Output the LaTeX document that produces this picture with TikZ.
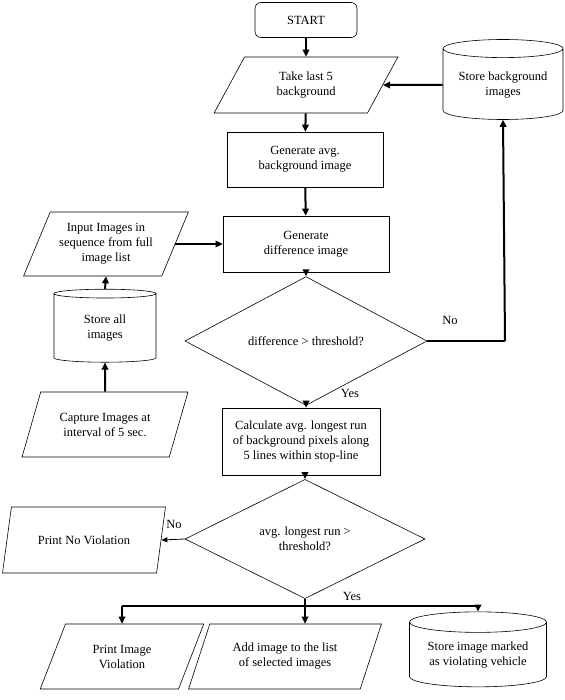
\documentclass[tikz,border=0pt]{standalone}
\usepackage{fontspec}
\setmainfont{Liberation Serif}
\usetikzlibrary{shapes.geometric,arrows.meta}
\tikzset{
    txt/.style={font=\fontsize{12.5}{15}\selectfont},
    box/.style={txt,draw,line width=0.6pt,align=center,inner sep=1pt},
    proc/.style={box,rectangle},
    io/.style={box,trapezium,trapezium left angle=62,trapezium right angle=118,trapezium stretches=true},
    store/.style={box,cylinder,shape border rotate=90,aspect=0.2},
    decide/.style={box,diamond},
    flow/.style={line width=2pt,-{Triangle[length=7pt,width=6.5pt]}},
    thinflow/.style={line width=0.8pt,-{Triangle[length=6pt,width=5pt]}},
    bus/.style={line width=2pt}
}
\begin{document}
\begin{tikzpicture}[x=1pt,y=-1pt]
    \useasboundingbox (0,0) rectangle (564,700);
    \node[proc,rounded corners=6pt,minimum width=102pt,minimum height=35pt] (start) at (306,20) {START};
    \node[io,minimum width=185pt,minimum height=56pt] (take) at (306,85) {Take last 5\\background};
    \node[proc,minimum width=156pt,minimum height=55pt] (avg) at (305,159.5) {Generate avg.\\background image};
    \node[proc,minimum width=166pt,minimum height=56pt] (diff) at (306,244) {Generate\\difference image};
    \node[decide,minimum width=242pt,minimum height=92pt] (thr) at (306,341) {difference > threshold?};
    \node[proc,minimum width=158pt,minimum height=67pt] (calc) at (301,441.5) {Calculate avg. longest run\\of background pixels along\\5 lines within stop-line};
    \node[decide,minimum width=240pt,minimum height=92pt] (run) at (305,539) {avg. longest run >\\threshold?};
    \node[store,minimum width=120pt,minimum height=80pt] (bgstore) at (503,85) {Store background\\images};
    \node[io,minimum width=165pt,minimum height=64pt] (input) at (106,244) {Input Images in\\sequence from full\\image list};
    \node[store,minimum width=102pt,minimum height=73pt] (allstore) at (105,328.5) {Store all\\images};
    \node[io,minimum width=166pt,minimum height=65pt] (capture) at (105,424.5) {Capture Images at\\interval of 5 sec.};
    \node[io,minimum width=163pt,minimum height=66pt] (noviol) at (84,540) {Print No Violation};
    \node[io,minimum width=165pt,minimum height=65pt] (printimg) at (122,656.5) {Print Image\\Violation};
    \node[io,minimum width=193pt,minimum height=65pt] (addimg) at (285,656.5) {Add image to the list\\of selected images};
    \node[store,minimum width=137pt,minimum height=75pt] (markstore) at (478,655.5) {Store image marked\\as violating vehicle};
    \node[txt] (no1) at (450,320) {No};
    \node[txt] (yes1) at (350,393) {Yes};
    \node[txt] (no2) at (174,524) {No};
    \node[txt] (yes2) at (352,596) {Yes};
    \coordinate (turn) at (505,341);
    \coordinate (split) at (305,606);
    \draw[flow] (start) -- (take);
    \draw[flow] (take) -- (avg);
    \draw[flow] (avg) -- (diff);
    \draw[flow] (diff) -- (thr);
    \draw[flow] (thr.south) -- (thr.south |- calc.north);
    \draw[line width=2pt] (thr.east) -- (turn);
    \draw[flow] (turn) -- (bgstore.south);
    \draw[flow] (bgstore.west) -- (take.east);
    \draw[flow] (capture.north) -- (allstore.south);
    \draw[flow] (allstore.north) -- (input.south);
    \draw[flow] (input.east) -- (diff.west |- input.east);
    \draw[flow] (calc.south -| run.north) -- (run.north);
    \draw[thinflow] (run.west) -- (noviol.east);
    \draw[flow] (run.south) -- (split) -- (addimg.north -| split);
    \draw[bus] (printimg.north |- split) -- (markstore.north |- split);
    \draw[flow] (printimg.north |- split) -- (printimg.north);
    \draw[flow] (markstore.north |- split) -- (markstore.north);
\end{tikzpicture}
\end{document}
